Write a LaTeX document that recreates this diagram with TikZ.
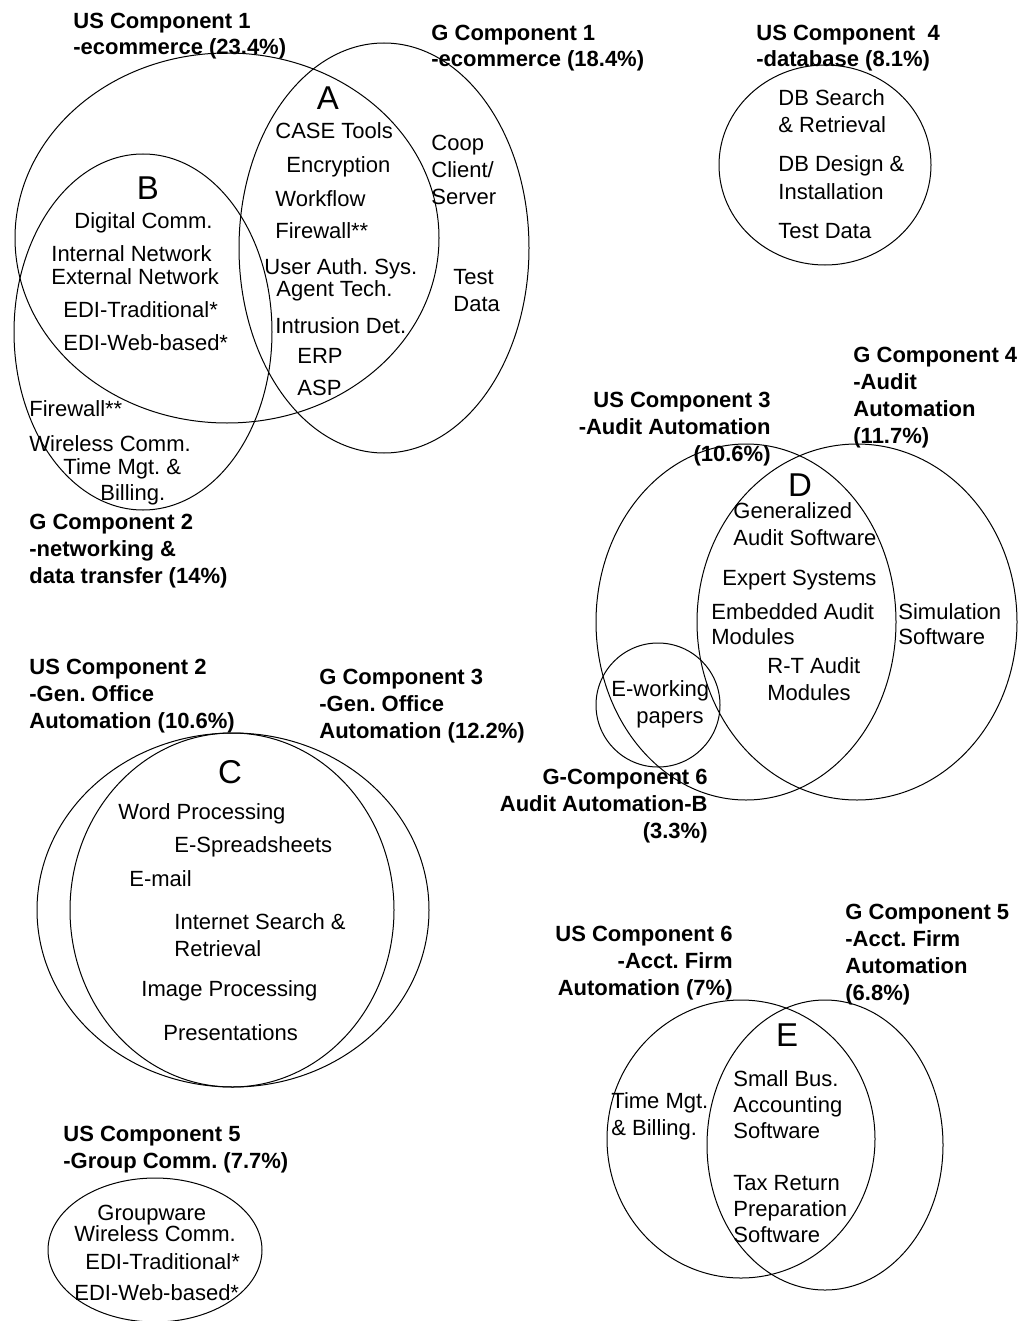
\documentclass[tikz,border=0pt]{standalone}
\usepackage{fontspec}
\setmainfont{Liberation Sans}
\usetikzlibrary{shapes.geometric}
\frenchspacing

\begin{document}
\begin{tikzpicture}[
      x=0.5pt, y=-0.5pt,
      every node/.style={font=\fontsize{11}{13.5}\selectfont},
      ring/.style={draw, ellipse, inner sep=0pt, line width=0.5pt},
      head/.style={align=left, anchor=base west, inner sep=0pt,
        font=\fontsize{11}{13.4}\selectfont\bfseries},
      item/.style={align=left, anchor=base west, inner sep=0pt},
      zone/.style={font=\fontsize{16.5}{20}\selectfont, inner sep=0pt}
    ]
    \useasboundingbox (0,0) rectangle (1020,1321);

    % ELIPSES
    \node[ring, minimum width=212pt, minimum height=185pt] (us1) at (227,238) {};
    \node[ring, minimum width=145pt, minimum height=205pt] (g1) at (384,248) {};
    \node[ring, minimum width=129pt, minimum height=178pt] (g2) at (143,332) {};
    \node[ring, minimum width=106pt, minimum height=100pt] (us4) at (825,165) {};
    \node[ring, minimum width=150pt, minimum height=178pt] (us3) at (746,622) {};
    \node[ring, minimum width=160pt, minimum height=178pt] (g4) at (857,622) {};
    \node[ring, minimum width=62pt, minimum height=62pt] (g6) at (658,705) {};
    \node[ring, minimum width=196pt, minimum height=177pt] (g3) at (233,910) {};
    \node[ring, minimum width=162pt, minimum height=177pt] (us2) at (232,910) {};
    \node[ring, minimum width=107pt, minimum height=72pt] (us5) at (155,1250) {};
    \node[ring, minimum width=134pt, minimum height=139pt] (us6) at (741,1139) {};
    \node[ring, minimum width=118pt, minimum height=145pt] (g5) at (825,1145) {};

    % TITULOS (base = ultima linea)
    \node[head] (t-us1) at (73,55) {US Component 1\\-ecommerce (23.4\%)};
    \node[head] (t-g1) at (431,67) {G Component 1\\-ecommerce (18.4\%)};
    \node[head] (t-us4) at (756,67) {US Component\ \ 4\\-database (8.1\%)};
    \node[head] (t-g2) at (29,583) {G Component 2\\-networking \&\\data transfer (14\%)};
    \node[head, align=right, anchor=base east] (t-us3) at (771,461) {US Component 3\\-Audit Automation\\(10.6\%)};
    \node[head] (t-g4) at (853,443) {G Component 4\\-Audit\\Automation\\(11.7\%)};
    \node[head] (t-us2) at (29,728) {US Component 2\\-Gen. Office\\Automation (10.6\%)};
    \node[head] (t-g3) at (319,738) {G Component 3\\-Gen. Office\\Automation (12.2\%)};
    \node[head, align=right, anchor=base east] (t-g6) at (708,838) {G-Component 6\\Audit Automation-B\\(3.3\%)};
    \node[head, align=right, anchor=base east] (t-us6) at (733,995) {US Component 6\\-Acct. Firm\hspace*{3pt}\\Automation (7\%)};
    \node[head] (t-g5) at (845,1000) {G Component 5\\-Acct. Firm\\Automation\\(6.8\%)};
    \node[head] (t-us5) at (63,1168) {US Component 5\\-Group Comm. (7.7\%)};

    % ZONAS
    \node[zone] (zA) at (328,98) {A};
    \node[zone] (zB) at (148,188) {B};
    \node[zone] (zC) at (230,772) {C};
    \node[zone] (zD) at (800,485) {D};
    \node[zone] (zE) at (787,1035) {E};

    % A
    \node[item] (a1) at (275,139) {CASE Tools};
    \node[item] (a2) at (286,173) {Encryption};
    \node[item] (a3) at (275,206) {Workflow};
    \node[item] (a4) at (275,239) {Firewall**};
    \node[item] (a5) at (264,274) {User Auth. Sys.};
    \node[item] (a6) at (276,296) {Agent Tech.};
    \node[item] (a7) at (275,333) {Intrusion Det.};
    \node[item] (a8) at (297,363) {ERP};
    \node[item] (a9) at (297,395) {ASP};
    \node[item] (a10) at (431,205) {Coop\\Client/\\Server};
    \node[item] (a11) at (453,311) {Test\\Data};

    % B
    \node[item] (b1) at (74,228) {Digital Comm.};
    \node[item] (b2) at (51,261) {Internal Network};
    \node[item] (b3) at (51,284) {External Network};
    \node[item] (b4) at (63,317) {EDI-Traditional*};
    \node[item] (b5) at (63,350) {EDI-Web-based*};
    \node[item] (b6) at (29,416) {Firewall**};
    \node[item] (b7) at (29,451) {Wireless Comm.};
    \node[item] (b8) at (63,474) {Time Mgt. \&};
    \node[item] (b9) at (100,500) {Billing.};

    % BASE DE DATOS
    \node[item] (db1) at (778,133) {DB Search\\\& Retrieval};
    \node[item] (db2) at (778,199) {DB Design \&\\Installation};
    \node[item] (db3) at (778,239) {Test Data};

    % D
    \node[item] (d1) at (733,545) {Generalized\\Audit Software};
    \node[item] (d2) at (722,585) {Expert Systems};
    \node[item] (d3) at (711,644) {Embedded Audit\\[-1pt]Modules};
    \node[item] (d4) at (898,644) {Simulation\\[-1pt]Software};
    \node[item] (d5) at (767,700) {R-T Audit\\Modules};
    \node[item] (d6) at (611,696) {E-working};
    \node[item] (d7) at (636,723) {papers};

    % C
    \node[item] (c1) at (118,819) {Word Processing};
    \node[item] (c2) at (174,852) {E-Spreadsheets};
    \node[item] (c3) at (129,886) {E-mail};
    \node[item] (c4) at (174,956) {Internet Search \&\\Retrieval};
    \node[item] (c5) at (141,996) {Image Processing};
    \node[item] (c6) at (163,1040) {Presentations};

    % GRUPO
    \node[item] (u1) at (97,1220) {Groupware};
    \node[item] (u2) at (74,1241) {Wireless Comm.};
    \node[item] (u3) at (85,1269) {EDI-Traditional*};
    \node[item] (u4) at (74,1300) {EDI-Web-based*};

    % E
    \node[item] (e1) at (733,1138) {Small Bus.\\[-0.5pt]Accounting\\[-0.5pt]Software};
    \node[item] (e2) at (733,1242) {Tax Return\\[-0.5pt]Preparation\\[-0.5pt]Software};
    \node[item] (e3) at (611,1135) {Time Mgt.\\\& Billing.};
  \end{tikzpicture}
\end{document}
